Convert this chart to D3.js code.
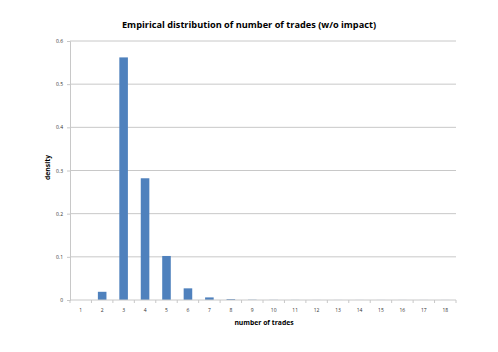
<!DOCTYPE html>
<html>
<head>
<meta charset="utf-8">
<script src="https://cdn.jsdelivr.net/npm/d3@7"></script>
<style>
  body { margin: 0; background: #fff; }
  text { font-family: "Open Sans", "Liberation Sans", sans-serif; }
</style>
</head>
<body>
<div id="chart"></div>
<script>
// number of trades and their empirical density
var trades = [1, 2, 3, 4, 5, 6, 7, 8, 9, 10, 11, 12, 13, 14, 15, 16, 17, 18];
var density = [0, 0.019, 0.562, 0.282, 0.102, 0.027, 0.006, 0.002, 0.0006, 0.0003, 0.0002, 0.0001, 0.0001, 0.0001, 0.0001, 0.0001, 0.0001, 0.0001];
var yTicks = [0, 0.1, 0.2, 0.3, 0.4, 0.5, 0.6];

var W = 498, H = 352;
var margin = {top: 41, right: 42, bottom: 52, left: 70};
var width = W - margin.left - margin.right,
    height = H - margin.top - margin.bottom;

var svg = d3.select("#chart")
  .append("svg")
    .attr("width", W)
    .attr("height", H)
  .append("g")
    .attr("transform", "translate(" + margin.left + "," + margin.top + ")");

var data = trades.map(function(t, i) { return {t: t, v: density[i]}; });

// X scale
var x = d3.scaleBand()
  .domain(trades)
  .range([0, width])
  .paddingInner(0.6)
  .paddingOuter(0.3);

// Y scale
var y = d3.scaleLinear()
  .domain([0, 0.6])
  .range([height, 0]);

// gridlines
svg.append("g")
  .selectAll("line")
  .data(yTicks.slice(1))
  .enter().append("line")
    .attr("x1", 0).attr("x2", width)
    .attr("y1", function(d) { return y(d); })
    .attr("y2", function(d) { return y(d); })
    .attr("stroke", "#c8c8c8")
    .attr("stroke-width", 1);

// Y axis
var yAxis = svg.append("g")
  .call(d3.axisLeft(y).tickValues(yTicks).tickSize(3).tickPadding(4)
    .tickFormat(function(d) { return d === 0 ? "0" : d3.format(".1f")(d); }));
yAxis.select(".domain").attr("stroke", "#c8c8c8");
yAxis.selectAll(".tick line").attr("stroke", "#c8c8c8");
yAxis.selectAll("text").attr("font-size", 5).attr("fill", "#333");

// bars
svg.selectAll(".bar")
  .data(data)
  .enter().append("rect")
    .attr("class", "bar")
    .attr("x", function(d) { return x(d.t); })
    .attr("width", x.bandwidth())
    .attr("y", function(d) { return y(d.v); })
    .attr("height", function(d) { return height - y(d.v); })
    .attr("fill", "#4f81bd");

// X axis (ticks between categories)
var xAxis = svg.append("g")
  .attr("transform", "translate(0," + height + ")");
xAxis.append("line")
  .attr("x1", 0).attr("x2", width)
  .attr("stroke", "#c8c8c8");
xAxis.selectAll(".xt")
  .data(d3.range(trades.length + 1))
  .enter().append("line")
    .attr("class", "xt")
    .attr("x1", function(i) { return i * width / trades.length; })
    .attr("x2", function(i) { return i * width / trades.length; })
    .attr("y1", 0).attr("y2", 3)
    .attr("stroke", "#c8c8c8");
xAxis.selectAll(".xl")
  .data(trades)
  .enter().append("text")
    .attr("class", "xl")
    .attr("x", function(d) { return x(d) + x.bandwidth() / 2; })
    .attr("y", 12)
    .attr("text-anchor", "middle")
    .attr("font-size", 5)
    .attr("fill", "#333")
    .text(function(d) { return d; });

// title
svg.append("text")
  .attr("x", W / 2 - margin.left)
  .attr("y", -13)
  .attr("text-anchor", "middle")
  .attr("font-size", 9.2)
  .attr("font-weight", "bold")
  .text("Empirical distribution of number of trades (w/o impact)");

// axis labels
svg.append("text")
  .attr("x", width / 2 + 1)
  .attr("y", height + 25)
  .attr("text-anchor", "middle")
  .attr("font-size", 6.8)
  .attr("font-weight", "bold")
  .text("number of trades");

svg.append("text")
  .attr("transform", "translate(-20," + (height / 2 - 3) + ") rotate(-90)")
  .attr("text-anchor", "middle")
  .attr("font-size", 6.8)
  .attr("font-weight", "bold")
  .text("density");
</script>
</body>
</html>
